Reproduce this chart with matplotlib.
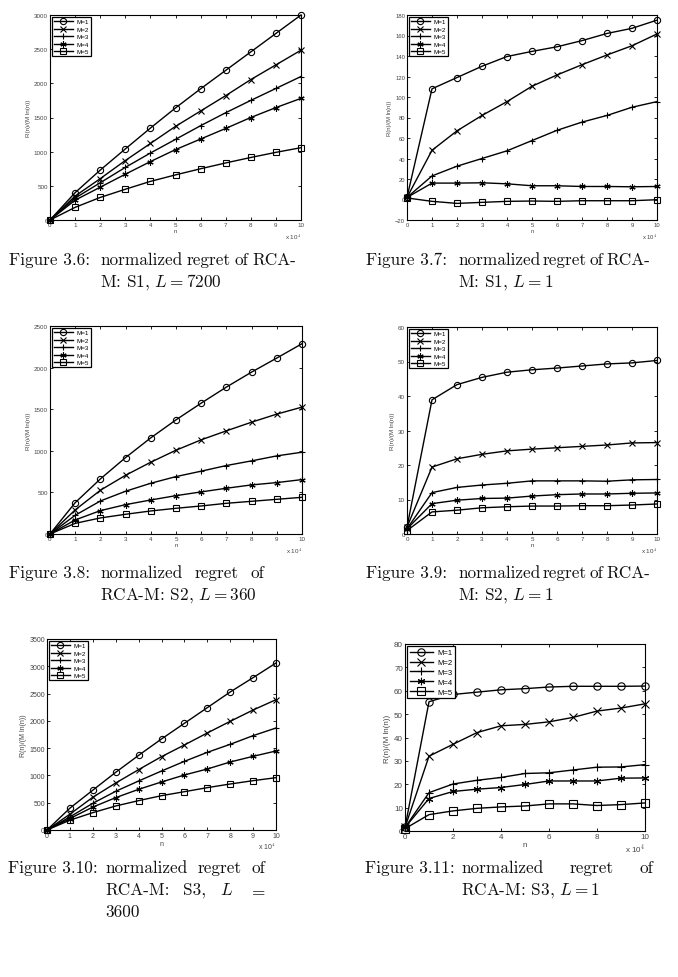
import matplotlib
matplotlib.use("Agg")
import matplotlib.pyplot as plt
import numpy as np

# n in units of 10^4
n = [0, 1, 2, 3, 4, 5, 6, 7, 8, 9, 10]
labels = ["M=1", "M=2", "M=3", "M=4", "M=5"]

# Fig 3.6: S1, L = 7200
s1_l7200_m1 = [0, 400, 730, 1040, 1345, 1640, 1920, 2190, 2460, 2730, 3000]
s1_l7200_m2 = [0, 350, 605, 870, 1120, 1370, 1595, 1820, 2055, 2270, 2485]
s1_l7200_m3 = [0, 320, 545, 770, 980, 1180, 1380, 1570, 1750, 1925, 2100]
s1_l7200_m4 = [0, 290, 480, 670, 855, 1030, 1185, 1340, 1500, 1645, 1780]
s1_l7200_m5 = [0, 185, 330, 450, 565, 660, 750, 835, 915, 990, 1058]

# Fig 3.7: S1, L = 1
s1_l1_m1 = [2, 108, 119, 130, 139.5, 144.5, 149, 155, 162, 167, 175]
s1_l1_m2 = [2, 48, 67, 82, 95.5, 110.5, 121.5, 131.5, 141, 150, 161.5]
s1_l1_m3 = [2, 23, 32.5, 40, 47.5, 57.5, 67.5, 75.5, 82, 90, 95.5]
s1_l1_m4 = [2, 16, 16, 16.3, 15.3, 13.4, 13.4, 12.7, 12.7, 12.4, 12.7]
s1_l1_m5 = [1.5, -1.8, -3.8, -2.8, -1.8, -1.5, -1.8, -1.2, -1.2, -1.2, -0.2]

# Fig 3.8: S2, L = 360
s2_l360_m1 = [0, 377, 662, 919, 1156, 1372, 1573, 1766, 1946, 2115, 2287]
s2_l360_m2 = [0, 290, 526, 706, 863, 1007, 1132, 1240, 1344, 1441, 1525]
s2_l360_m3 = [0, 225, 397, 514, 610, 690, 755, 823, 879, 939, 983]
s2_l360_m4 = [0, 169, 281, 353, 409, 461, 506, 550, 590, 618, 654]
s2_l360_m5 = [0, 128, 193, 237, 277, 309, 337, 369, 393, 417, 441]

# Fig 3.9: S2, L = 1
s2_l1_m1 = [2, 38.9, 43.3, 45.4, 46.9, 47.6, 48.1, 48.7, 49.3, 49.6, 50.3]
s2_l1_m2 = [2, 19.4, 21.8, 23.1, 24.1, 24.6, 25.0, 25.4, 25.8, 26.4, 26.5]
s2_l1_m3 = [1.5, 12.0, 13.5, 14.2, 14.7, 15.4, 15.4, 15.4, 15.3, 15.7, 15.8]
s2_l1_m4 = [1.5, 8.8, 9.8, 10.3, 10.4, 11.0, 11.4, 11.6, 11.6, 11.8, 11.9]
s2_l1_m5 = [1, 6.4, 6.9, 7.6, 7.9, 8.1, 8.1, 8.2, 8.2, 8.4, 8.7]

# Fig 3.10: S3, L = 3600
s3_l3600_m1 = [0, 400, 730, 1057, 1368, 1668, 1955, 2242, 2529, 2792, 3060]
s3_l3600_m2 = [0, 290, 600, 861, 1106, 1344, 1558, 1778, 1991, 2199, 2388]
s3_l3600_m3 = [0, 240, 489, 709, 898, 1081, 1258, 1423, 1570, 1729, 1869]
s3_l3600_m4 = [0, 210, 420, 593, 745, 880, 1008, 1118, 1246, 1350, 1448]
s3_l3600_m5 = [0, 180, 318, 440, 538, 629, 702, 776, 843, 904, 959]

# Fig 3.11: S3, L = 1
s3_l1_m1 = [1.5, 55.3, 58.4, 59.4, 60.4, 60.9, 61.6, 61.9, 61.9, 61.9, 62.0]
s3_l1_m2 = [1.5, 32.0, 37.1, 42.1, 45.0, 45.6, 46.7, 48.6, 51.3, 52.6, 54.4]
s3_l1_m3 = [1.5, 16.4, 20.1, 21.7, 22.9, 24.6, 24.9, 26.1, 27.3, 27.4, 28.4]
s3_l1_m4 = [1.5, 13.9, 16.9, 17.9, 18.6, 19.9, 21.4, 21.4, 21.4, 22.6, 22.7]
s3_l1_m5 = [1.0, 7.0, 8.6, 9.7, 10.3, 10.7, 11.6, 11.6, 10.9, 11.3, 12.0]

W, H = 678, 978
markers = ["o", "x", "+", (6, 2, 0), "s"]

plt.rcParams["mathtext.fontset"] = "cm"
fig = plt.figure(figsize=(W / 100, H / 100), dpi=100)


def px_axes(x0, y0, x1, y1):
    return fig.add_axes([x0 / W, 1 - y1 / H, (x1 - x0) / W, (y1 - y0) / H])


def plot_panel(ax, series, ylim, yticks, xticks, fs=4.5, ms=4.5, lfs=4.5):
    for ys, mk, lab in zip(series, markers, labels):
        ax.plot(n, ys, color="black", lw=1.0, marker=mk, ms=ms, mfc="none",
                mew=0.8, label=lab, clip_on=False, zorder=3)
    ax.set_xlim(0, 10)
    ax.set_ylim(*ylim)
    ax.set_xticks(xticks)
    ax.set_yticks(yticks)
    ax.tick_params(direction="in", length=2.5, width=0.6, top=True, right=True,
                   labelsize=fs, labelcolor="#444444", pad=1.5)
    for lab in ax.get_xticklabels() + ax.get_yticklabels():
        lab.set_fontfamily("Liberation Sans")
    for sp in ax.spines.values():
        sp.set_linewidth(0.8)
    ax.set_xlabel("n", fontsize=fs, color="#444444", labelpad=0.5,
                  fontfamily="Liberation Sans")
    ax.set_ylabel("R(n)/(M ln(n))", fontsize=fs, color="#444444", labelpad=2,
                  fontfamily="Liberation Sans")
    ax.text(1.0, -0.055, r"x 10$^4$", transform=ax.transAxes, ha="right",
            va="top", fontsize=fs, color="#444444", fontfamily="Liberation Sans")
    leg = ax.legend(loc="upper left", fontsize=lfs, frameon=True, fancybox=False,
                    edgecolor="black", framealpha=1, borderaxespad=0.3,
                    handlelength=3.0, handletextpad=0.6, labelspacing=0.33,
                    borderpad=0.35, prop={"family": "Liberation Sans", "size": lfs})
    leg.get_frame().set_linewidth(0.9)


ax1 = px_axes(50, 16, 301, 221)
plot_panel(ax1, [s1_l7200_m1, s1_l7200_m2, s1_l7200_m3, s1_l7200_m4, s1_l7200_m5],
           (0, 3000), range(0, 3001, 500), range(0, 11))
ax2 = px_axes(407, 16, 657, 221)
plot_panel(ax2, [s1_l1_m1, s1_l1_m2, s1_l1_m3, s1_l1_m4, s1_l1_m5],
           (-20, 180), range(-20, 181, 20), range(0, 11), fs=4.2)
ax3 = px_axes(50, 327, 302, 535)
plot_panel(ax3, [s2_l360_m1, s2_l360_m2, s2_l360_m3, s2_l360_m4, s2_l360_m5],
           (0, 2500), range(0, 2501, 500), range(0, 11))
ax4 = px_axes(407, 328, 657, 535)
plot_panel(ax4, [s2_l1_m1, s2_l1_m2, s2_l1_m3, s2_l1_m4, s2_l1_m5],
           (0, 60), range(0, 61, 10), range(0, 11))
ax5 = px_axes(47, 640, 276, 831)
plot_panel(ax5, [s3_l3600_m1, s3_l3600_m2, s3_l3600_m3, s3_l3600_m4, s3_l3600_m5],
           (0, 3500), range(0, 3501, 500), range(0, 11), fs=5)
ax6 = px_axes(405, 645, 645, 832)
plot_panel(ax6, [s3_l1_m1, s3_l1_m2, s3_l1_m3, s3_l1_m4, s3_l1_m5],
           (0, 80), range(0, 81, 10), range(0, 11, 2), fs=5.8, ms=5.3, lfs=5.5)

# captions (LaTeX style, hanging indent, justified first lines)
cap_kw = dict(fontsize=12.4, fontfamily="cmr10", va="baseline", color="#111111")
renderer = fig.canvas.get_renderer()


def text_px(x, y, s):
    return fig.text(x / W, 1 - y / H, s, **cap_kw)


def justified(words, x0, x1, y):
    texts = [text_px(0, y, w) for w in words]
    widths = [t.get_window_extent(renderer).width for t in texts]
    gap = (x1 - x0 - sum(widths)) / (len(words) - 1)
    x = x0
    for t, w in zip(texts, widths):
        t.set_x(x / W)
        x += w + gap


text_px(9, 265, "Figure 3.6:")
justified(["normalized", "regret", "of", "RCA-"], 100, 296, 265)
text_px(100, 287, r"M: S1, $L = 7200$")

text_px(366, 265, "Figure 3.7:")
justified(["normalized", "regret", "of", "RCA-"], 458, 650, 265)
text_px(458, 287, r"M: S1, $L = 1$")

text_px(9, 578, "Figure 3.8:")
justified(["normalized", "regret", "of"], 100, 264, 578)
text_px(100, 600, r"RCA-M: S2, $L = 360$")

text_px(366, 578, "Figure 3.9:")
justified(["normalized", "regret", "of", "RCA-"], 458, 650, 578)
text_px(458, 600, r"M: S2, $L = 1$")

text_px(8, 873, "Figure 3.10:")
justified(["normalized", "regret", "of"], 105, 265, 873)
justified(["RCA-M:", "S3,", r"$L$", r"$=$"], 105, 265, 895)
text_px(105, 917, "3600")

text_px(365, 873, "Figure 3.11:")
justified(["normalized", "regret", "of"], 461, 653, 873)
text_px(461, 895, r"RCA-M: S3, $L = 1$")

fig.savefig("out.png", dpi=100)
